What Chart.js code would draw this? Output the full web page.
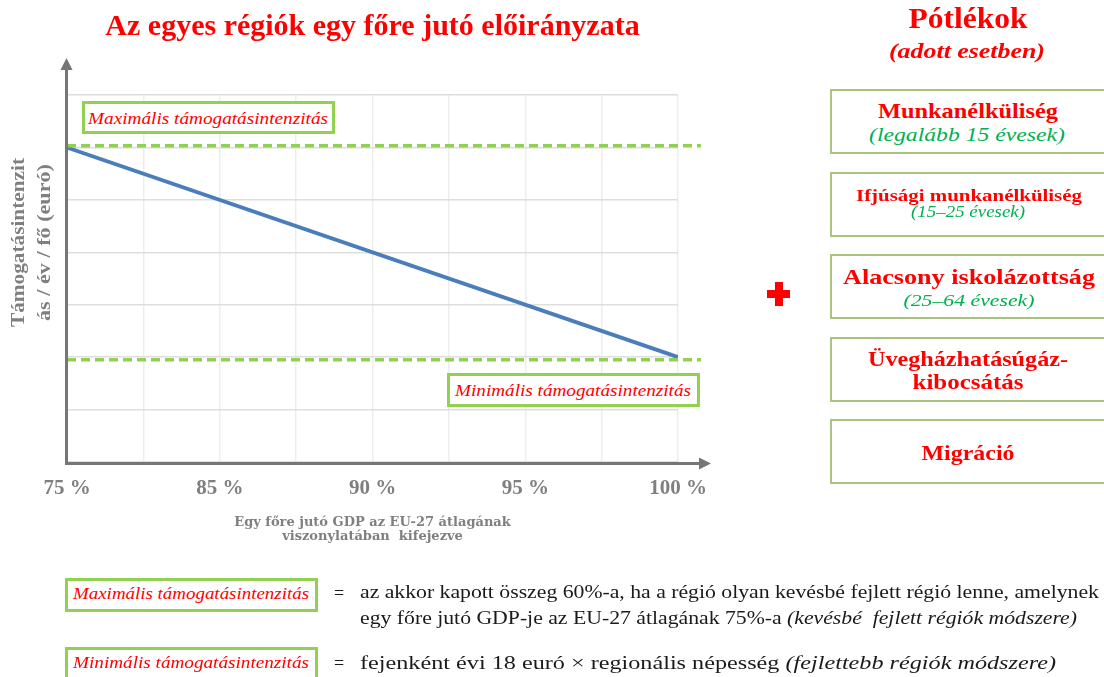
<!DOCTYPE html>
<html><head><meta charset="utf-8">
<script src="https://cdn.jsdelivr.net/npm/chart.js"></script>
<style>
html,body{margin:0;padding:0;background:#fff;}
#page{position:relative;width:1104px;height:677px;overflow:hidden;background:#fff;font-family:'Liberation Serif',serif;}
#chartWrap{position:absolute;left:0;top:0;width:1104px;height:677px;}
.t{position:absolute;white-space:nowrap;line-height:1;}
.box{position:absolute;box-sizing:border-box;background:#fff;}
.lbl{border:3px solid #92d050;}
.add{border:2px solid #a9c47f;}
.red{color:#ff0000;}
.grn{color:#00b050;}
.blk{color:#1a1a1a;}
.b{font-weight:bold;}
.i{font-style:italic;}
.cross{position:absolute;background:#ff0000;}
</style></head>
<body><div id="page">
<div id="chartWrap"><canvas id="c"></canvas></div>

<!-- in-chart labels -->
<div class="box lbl" style="left:82px;top:101px;width:253px;height:33px;"></div>
<span class="t red i" style="font-size:17px" data-cx="208" data-cy="117.5" data-w="240">Maximális támogatásintenzitás</span>
<div class="box lbl" style="left:447px;top:373px;width:253px;height:34px;"></div>
<span class="t red i" style="font-size:17px" data-cx="573" data-cy="390" data-w="236">Minimális támogatásintenzitás</span>

<!-- right panel -->
<span class="t red b" style="font-size:29px" data-cx="967.5" data-cy="17.5" data-w="119">Pótlékok</span>
<span class="t red b i" style="font-size:20px" data-cx="967" data-cy="50.5" data-w="156">(adott esetben)</span>

<div class="cross" style="left:767px;top:290px;width:23px;height:8px;"></div>
<div class="cross" style="left:774.5px;top:282px;width:8px;height:24px;"></div>

<div class="box add" style="left:830px;top:89px;width:290px;height:65px;"></div>
<span class="t red b" style="font-size:22px" data-cx="968" data-cy="110.5" data-w="180">Munkanélküliség</span>
<span class="t grn i" style="font-size:19px" data-cx="966.5" data-cy="134" data-w="196">(legalább 15 évesek)</span>

<div class="box add" style="left:830px;top:172px;width:290px;height:65px;"></div>
<span class="t red b" style="font-size:17px" data-cx="968.5" data-cy="195" data-w="226">Ifjúsági munkanélküliség</span>
<span class="t grn i" style="font-size:16px" data-cx="968" data-cy="212" data-w="114">(15–25 évesek)</span>

<div class="box add" style="left:830px;top:254px;width:290px;height:65px;"></div>
<span class="t red b" style="font-size:22px" data-cx="969" data-cy="277" data-w="252">Alacsony iskolázottság</span>
<span class="t grn i" style="font-size:17px" data-cx="968.5" data-cy="300" data-w="131">(25–64 évesek)</span>

<div class="box add" style="left:830px;top:337px;width:290px;height:65px;"></div>
<span class="t red b" style="font-size:22px" data-cx="968" data-cy="359" data-w="200">Üvegházhatásúgáz-</span>
<span class="t red b" style="font-size:22px" data-cx="967.5" data-cy="382" data-w="111">kibocsátás</span>

<div class="box add" style="left:830px;top:419px;width:290px;height:65px;"></div>
<span class="t red b" style="font-size:22px" data-cx="968" data-cy="452.5" data-w="93">Migráció</span>

<!-- bottom legend -->
<div class="box lbl" style="left:65px;top:578px;width:253px;height:34px;"></div>
<span class="t red i" style="font-size:16px" data-cx="191" data-cy="594" data-w="236">Maximális támogatásintenzitás</span>
<span class="t blk" style="font-size:18px" data-cx="339" data-cy="593">=</span>
<span class="t blk" id="l1" style="font-size:18px" data-align="left" data-x="360" data-cy="592" data-same="l2">az akkor kapott összeg 60%-a, ha a régió olyan kevésbé fejlett régió lenne, amelynek</span>
<span class="t blk" id="l2" style="font-size:18px" data-align="left" data-x="360" data-cy="618" data-w="717">egy főre jutó GDP-je az EU-27 átlagának 75%-a <i>(kevésbé&nbsp; fejlett régiók módszere)</i></span>

<div class="box lbl" style="left:65px;top:647px;width:253px;height:34px;"></div>
<span class="t red i" style="font-size:16px" data-cx="191" data-cy="663" data-w="236">Minimális támogatásintenzitás</span>
<span class="t blk" style="font-size:18px" data-cx="339" data-cy="663">=</span>
<span class="t blk" style="font-size:18px" data-align="left" data-x="360" data-cy="663" data-w="696">fejenként évi 18 euró × regionális népesség <i>(fejlettebb régiók módszere)</i></span>
</div>

<script>
// ---- data ----
const xTickLabels = ["75 %", "", "85 %", "", "90 %", "", "95 %", "", "100 %"];
const gdpPositions = [0, 8];
const allocationValues = [6, 2];
const maxIntensity = 6.03;
const minIntensity = 1.95;
const limitExtent = [0, 8.3];
const yTitleLines = ["Támogatásintenzit", "ás / év / fő (euró)"];
const xTitleLines = ["Egy főre jutó GDP az EU-27 átlagának", "viszonylatában  kifejezve"];
const chartTitle = "Az egyes régiók egy főre jutó előirányzata";

const toPoints = (xs, ys) => xs.map((x, i) => ({x, y: ys[i]}));

const axisPlugin = {
  id: 'axisArrows',
  afterDatasetsDraw(chart) {
    const {ctx, chartArea: a} = chart;
    ctx.save();
    ctx.strokeStyle = '#767676';
    ctx.fillStyle = '#767676';
    ctx.lineWidth = 3;
    const x0 = a.left - 0.5, y0 = a.bottom + 1.5;
    ctx.beginPath(); ctx.moveTo(x0, y0 + 1.5); ctx.lineTo(x0, a.top - 27); ctx.stroke();
    ctx.beginPath(); ctx.moveTo(x0, a.top - 37); ctx.lineTo(x0 - 6, a.top - 25); ctx.lineTo(x0 + 6, a.top - 25); ctx.closePath(); ctx.fill();
    ctx.beginPath(); ctx.moveTo(x0 - 1.5, y0); ctx.lineTo(a.right + 22, y0); ctx.stroke();
    ctx.beginPath(); ctx.moveTo(a.right + 33, y0); ctx.lineTo(a.right + 21, y0 - 6); ctx.lineTo(a.right + 21, y0 + 6); ctx.closePath(); ctx.fill();
    ctx.restore();
  },
  afterDraw(chart) {
    const ctx = chart.ctx;
    const xs = [19, 45], lens = [169, 157], cy = 242.5;
    ctx.save();
    ctx.fillStyle = '#7f7f7f';
    ctx.font = 'bold 19px "Liberation Serif"';
    ctx.textAlign = 'center';
    ctx.textBaseline = 'middle';
    yTitleLines.forEach((line, i) => {
      const m = ctx.measureText(line).width;
      ctx.save();
      ctx.translate(xs[i], cy);
      ctx.rotate(-Math.PI / 2);
      ctx.scale(lens[i] / m, 1);
      ctx.fillText(line, 0, 0);
      ctx.restore();
    });
    ctx.restore();
  }
};

new Chart(document.getElementById('c'), {
  type: 'line',
  data: {
    datasets: [
      { label: 'Maximális támogatásintenzitás', data: toPoints(limitExtent, [maxIntensity, maxIntensity]),
        borderColor: '#92d050', borderWidth: 3.5, borderDash: [9, 5], pointRadius: 0, clip: false },
      { label: 'Minimális támogatásintenzitás', data: toPoints(limitExtent, [minIntensity, minIntensity]),
        borderColor: '#92d050', borderWidth: 3.5, borderDash: [9, 5], pointRadius: 0, clip: false },
      { label: 'Előirányzat', data: toPoints(gdpPositions, allocationValues),
        borderColor: '#4a7ebb', borderWidth: 3.8, pointRadius: 0, tension: 0 }
    ]
  },
  options: {
    responsive: true, maintainAspectRatio: false, animation: false, devicePixelRatio: 1,
    layout: { padding: { left: 67, right: 426, top: 0, bottom: 130 } },
    plugins: {
      legend: { display: false }, tooltip: { enabled: false },
      title: { display: true, text: chartTitle, color: '#ff0000',
        font: { family: '"Liberation Serif"', size: 30, weight: 'bold', lineHeight: 1.2 },
        padding: { top: 9, bottom: 50 } }
    },
    scales: {
      x: { type: 'linear', min: 0, max: 8,
        grid: { color: '#ededed', lineWidth: 1.5, drawTicks: false },
        border: { display: false },
        ticks: { stepSize: 1, autoSkip: false, maxRotation: 0, padding: 14.4, color: '#7f7f7f',
          font: { family: '"Liberation Serif"', size: 21, weight: 'bold', lineHeight: 1.2 },
          callback: (v) => xTickLabels[v] ?? '' },
        title: { display: true, text: xTitleLines, color: '#7f7f7f',
          font: { family: '"DejaVu Serif"', size: 13, weight: 'bold', lineHeight: 1.04 },
          padding: { top: 0, bottom: 4 } } },
      y: { min: 0, max: 7,
        grid: { color: '#dedede', lineWidth: 1.5, drawTicks: false },
        border: { display: false },
        ticks: { display: false, stepSize: 1 } }
    }
  },
  plugins: [axisPlugin]
});

function placeTexts() {
  const els = Array.from(document.querySelectorAll('.t'));
  els.forEach(el => { el.style.transform = 'none'; });
  els.forEach(el => {
    const w = el.getBoundingClientRect().width;
    el._s = el.dataset.w ? parseFloat(el.dataset.w) / w : 1;
  });
  els.forEach(el => {
    let s = el._s;
    if (el.dataset.same) s = document.getElementById(el.dataset.same)._s;
    const left = el.dataset.align === 'left';
    el.style.left = (left ? el.dataset.x : el.dataset.cx) + 'px';
    el.style.top = el.dataset.cy + 'px';
    el.style.transformOrigin = left ? '0 50%' : '50% 50%';
    el.style.transform = (left ? 'translate(0,-50%)' : 'translate(-50%,-50%)') + ' scaleX(' + s + ')';
  });
}
placeTexts();
if (document.fonts && document.fonts.ready) document.fonts.ready.then(placeTexts);
</script>
</body></html>
